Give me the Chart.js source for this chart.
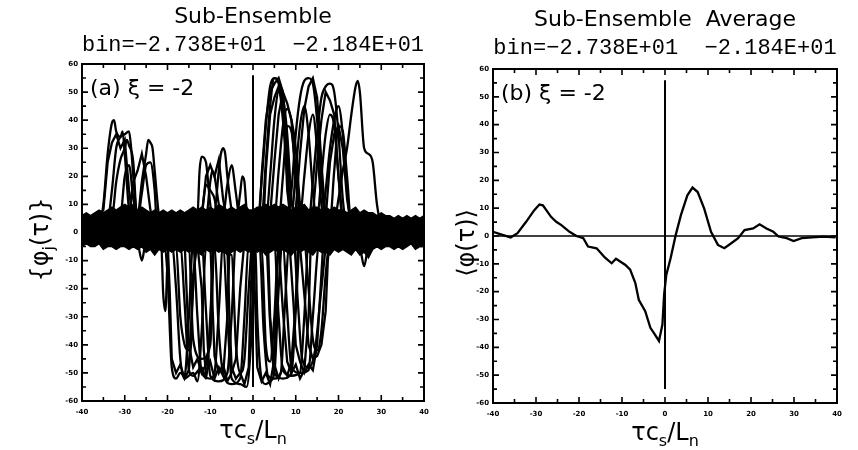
<!DOCTYPE html>
<html><head><meta charset="utf-8">
<script src="https://cdn.jsdelivr.net/npm/chart.js@4.4.1/dist/chart.umd.min.js"></script>
<style>
html,body{margin:0;padding:0;background:#fff;}
#wrap{position:relative;width:858px;height:450px;overflow:hidden;background:#fff;}
canvas{position:absolute;top:0;}
#c1{left:0;} #c2{left:440px;}
</style></head><body>
<div id="wrap"><canvas id="c1" width="440" height="450"></canvas><canvas id="c2" width="418" height="450"></canvas></div>
<script>
// ---------- text ----------
const titleLeft = 'Sub-Ensemble';
const titleRight = 'Sub-Ensemble  Average';
const binText = 'bin=−2.738E+01  −2.184E+01';
const panelLabelLeft = '(a) ξ = -2';
const panelLabelRight = '(b) ξ = -2';

// ---------- tick labels ----------
const xTickLabels = [-40, -30, -20, -10, 0, 10, 20, 30, 40];
const yTickLabels = [-60, -50, -40, -30, -20, -10, 0, 10, 20, 30, 40, 50, 60];

// ---------- panel (a): background noise band of all realisations ----------
const bandTau = [-40,-39,-38,-37,-36,-35,-34,-33,-32,-31,-30,-29,-28,-27,-26,-25,-24,-23,-22,-21,
  -20,-19,-18,-17,-16,-15,-14,-13,-12,-11,-10,-9,-8,-7,-6,-5,-4,-3,-2,-1,
  0,1,2,3,4,5,6,7,8,9,10,11,12,13,14,15,16,17,18,19,20,21,22,23,24,25,26,27,28,29,
  30,31,32,33,34,35,36,37,38,39,40];
const bandUpper = [6,7,6,7,8,7,8,9,8,9, 10,9,10,8,9,8,7,8,7,8,
  7,8,7,8,7,8,9,8,9,8, 9,8,10,9,8,9,8,9,10,8,
  8,9,9,10,9,10,9,10,9,8, 9,9,10,8,9,9,8,9,8,9,
  8,8,7,8,9,7,8,7,7,6, 7,6,6,5,6,5,6,5,6,5, 6];
const bandLower = [-5,-4,-5,-5,-4,-6,-5,-5,-6,-5, -5,-6,-5,-6,-5,-7,-6,-8,-6,-7,
  -6,-7,-6,-7,-6,-7,-6,-7,-8,-6, -7,-6,-7,-6,-8,-7,-6,-7,-6,-7,
  -6,-7,-6,-8,-7,-6,-7,-6,-7,-8, -6,-7,-6,-7,-8,-6,-7,-7,-8,-6,
  -7,-6,-7,-8,-6,-8,-7,-9,-6,-5, -6,-5,-5,-6,-5,-6,-5,-4,-6,-5, -5];

// ---------- panel (a): individual realisations (tau, phi) ----------
const realTaus = [
  [-40,-36,-35,-34,-33,-32.5,-32,-31,-30.5,-30,-29,-28,40],
  [-40,-34,-33,-32,-31,-30,-29,-28.5,-28,-27,40],
  [-40,-33,-32,-31,-30,-29.5,-29,-28,-27.5,-27,40],
  [-40,-27,-26,-25,-24.5,-24,-23.5,-23,-22,-21,40],
  [-40,-27,-26,-25,-24,-23,-22.5,40],
  [-40,-31,-30,-29,-28,-27,40],
  [-40,-27,-26,-25,40],
  [-40,-13,-12.5,-12,-11,-10.5,-10,-9,40],
  [-40,-9,-8,-7.5,-7,-6.5,-6,-5,-4,40],
  [-40,-11,-10,-9.5,-9,-8,-7,40],
  [-40,-4,-3,-2.5,-2,-1.5,-1,40],
  [-40,-12,-11,-10,-9,-8,40],
  [-40,-7,-6,-5,-4,-3,40],
  [-40,-21,-20,-19,-18,-17,-16,-15,-14,40],
  [-40,-19,-18,-17,-16,-14,-13,-12,-11,40],
  [-40,-17,-16,-15,-14,-12,-11,-10,-9,40],
  [-40,-14,-13,-12,-10,-9,-8,-7,40],
  [-40,-12,-11,-10,-8,-6,-5,-4,40],
  [-40,-9,-8,-7,-5,-3,-2,-1,40],
  [-40,-7,-6,-5,-3,-1.5,-0.5,0.5,40],
  [-40,-21.5,-21,-20.5,-20,-19.5,40],
  [-40,-18,-17,-16,-15,-14,-13,40],
  [-40,-15,-14,-12,-10,-9,40],
  [-40,-5,-4,-3,-2,-1,0,40],
  [-40,0.5,1,2,3,4,5,6,7,40],
  [-40,1.5,2.5,3.5,5,6.5,7.5,8.5,40],
  [-40,3,4,5,7,9,10,11,40],
  [-40,5,6,7,9,11,12,13,40],
  [-40,7,8,9,11,13,14,15.5,40],
  [-40,9.5,10.5,11.5,13,14.5,16,17.5,40],
  [-40,12,13,14,15,16,17,18,40],
  [-40,2,3,4,5,6,40],
  [-40,1,2,3,4,5,6,7,8,9,40],
  [-40,2,3,4,5,6,7,8,9,40],
  [-40,3,4,5,6,7,8,9,10,40],
  [-40,5,6,7,8,9,10,11,12,40],
  [-40,8,9,10,11,12,13,14,15,16,17,40],
  [-40,9,10,11,12,13,14,15,40],
  [-40,11,12,13,14,15,16,17,40],
  [-40,13,14,15,16,17,18,19,20,21,22,40],
  [-40,15,16,17,18,19,20,21,40],
  [-40,16,17,18,19,20,21,22,23,40],
  [-40,19,20,21,22,23,24,24.5,25,26,27,28,29,30,40],
  [-40,18,19,20,21,22,23,40],
  [-40,6,7,8,9,10,11,12,40],
  [-40,25,26,27,28,40]
];
const realVals = [
  [2,3,10,28,39,40,36,34,36,28,8,3,1],
  [1,4,15,30,34,35,36,30,20,4,2],
  [-1,5,18,26,30,33,31,25,12,3,0],
  [2,6,18,28,33,32,30,22,6,2,1],
  [1,5,14,24,25,15,4,0],
  [0,6,20,24,12,4,1],
  [-2,-4,-10,-3,-2],
  [1,6,22,27,25,18,10,3,0],
  [2,8,22,28,30,28,20,8,3,1],
  [0,5,18,22,20,10,3,1],
  [1,4,14,20,18,8,2,0],
  [2,8,17,15,12,4,1],
  [0,6,17,24,14,4,1],
  [0,-2,-15,-48,-52,-50,-51,-30,-3,1],
  [1,-3,-20,-45,-52,-50,-53,-35,-5,0],
  [0,-4,-25,-49,-51,-48,-52,-30,-2,1],
  [1,-5,-30,-50,-52,-50,-28,-4,0],
  [0,-3,-28,-51,-53,-50,-30,-3,1],
  [2,-5,-35,-50,-54,-52,-30,-4,0],
  [0,-4,-30,-52,-54,-55,-40,-5,1],
  [1,-3,-22,-28,-10,-3,0],
  [0,-5,-30,-40,-42,-20,-2,1],
  [1,-5,-38,-45,-40,-3,0],
  [0,-8,-40,-50,-45,-20,-2,1],
  [1,-3,-30,-52,-54,-53,-50,-20,-2,0],
  [0,-4,-35,-51,-52,-50,-25,-3,1],
  [1,-3,-32,-50,-52,-50,-28,-4,0],
  [0,-5,-30,-49,-51,-50,-30,-3,1],
  [1,-4,-28,-48,-50,-49,-30,-4,0],
  [0,-3,-25,-45,-48,-42,-20,-2,1],
  [1,-4,-20,-38,-42,-35,-15,-3,0],
  [0,-5,-40,-46,-30,-3,1],
  [0,3,18,38,52,55,54,45,25,5,1],
  [1,5,25,45,55,53,40,20,4,0],
  [0,4,20,40,50,48,35,12,3,1],
  [1,5,22,38,44,40,30,10,2,0],
  [0,3,15,35,48,54,55,53,40,18,4,1],
  [1,5,22,38,45,35,15,3,0],
  [0,6,20,35,42,30,10,2,1],
  [1,4,18,35,48,52,53,50,35,12,3,0],
  [0,5,20,35,42,38,20,4,1],
  [1,3,15,30,40,45,35,15,3,0],
  [0,4,12,22,30,42,52,54,50,30,28,25,10,3,1],
  [0,4,22,38,36,20,3,1],
  [1,4,20,38,36,22,6,1,0],
  [-1,-6,-12,-4,-1]
];

// more realisations, drawn with straight (jagged) segments
const jagTaus = [
  [-40,-20,-19.5,-19,-18,-17,-16,-15,-14.5,-14,-13,40],
  [-40,-16,-15.5,-15,-14,-13,-12,-11,-10,-9.5,-9,40],
  [-40,-13,-12,-11.5,-11,-10,-9,-8,-7,-6,-5.5,40],
  [-40,-10,-9.5,-9,-8,-7,-6,-5,-4,-3,-2,40],
  [-40,-6,-5.5,-5,-4,-3,-2,-1,-0.5,0,40],
  [-40,0,0.5,1,2,3,4,5,5.5,6,40],
  [-40,3.5,4,5,6,7,8,9,10,10.5,40],
  [-40,6,7,8,9,10,11,12,13,13.5,40],
  [-40,8.5,9.5,10,11,12,13,14,15,16,16.5,40],
  [-40,11,12,13,14,15,16,17,17.5,18,40],
  [-40,1.5,2,3,4,5,6,7,8,8.5,40],
  [-40,2.5,3,4,5,6,7,7.5,8,9,40],
  [-40,4,5,6,7,8,9,10,11,40],
  [-40,10,11,12,13,14,15,16,17,40],
  [-40,14,15,16,17,18,19,20,21,40],
  [-40,17,18,19,20,21,22,23,40],
  [-40,-35,-34,-33,-32,-31,-30,-29,-28,40],
  [-40,-29,-28,-27,-26,-25,-24,-23,40],
  [-40,-12,-11,-10,-9,-8,-7,-6,40]
];
const jagVals = [
  [0,-2,-20,-45,-50,-47,-52,-49,-40,-15,-3,1],
  [1,-3,-22,-40,-48,-45,-50,-47,-38,-10,-2,0],
  [0,-4,-20,-42,-50,-46,-52,-48,-51,-30,-5,1],
  [1,-2,-25,-44,-50,-47,-53,-50,-45,-20,-3,0],
  [0,-5,-30,-48,-52,-50,-54,-48,-20,-3,1],
  [1,-2,-25,-48,-53,-50,-54,-45,-20,-3,0],
  [0,-3,-30,-47,-52,-48,-51,-46,-25,-4,1],
  [1,-4,-28,-46,-50,-47,-52,-49,-30,-4,0],
  [0,-3,-26,-40,-46,-50,-47,-49,-40,-15,-2,1],
  [1,-5,-22,-40,-45,-44,-40,-28,-10,-2,0],
  [0,4,20,40,50,53,55,50,30,6,1],
  [1,5,22,42,48,52,45,35,15,3,0],
  [0,6,25,42,50,46,40,18,4,1],
  [1,8,28,44,52,55,48,25,4,0],
  [0,6,25,40,50,47,42,20,4,1],
  [1,5,25,35,38,30,12,2,0],
  [1,8,25,32,35,30,33,15,4,0],
  [0,6,18,22,28,20,8,2,1],
  [0,5,20,24,20,26,12,3,1]
];

// ---------- reference lines ----------
const markTau = [0, 0];
const markVal = [56, -55];
const zeroTau = [-40, 40];
const zeroVal = [0, 0];

// ---------- panel (b): sub-ensemble average ----------
const avgTau = [-40,-37.8,-35.9,-34.3,-32.3,-30.4,-29.2,-28.4,-26.5,-25.3,-24.1,-22.2,-20.6,-19.0,-17.9,
  -15.9,-14.0,-12.4,-11.4,-9.2,-8.1,-6.9,-6.1,-4.6,-3.4,-2.6,-1.4,-0.6,-0.2,0.3,1.3,2.5,3.7,5.2,6.4,
  7.6,9.1,10.7,12.3,13.8,15.4,17.0,18.5,20.5,22.0,23.6,25.2,26.4,28.3,29.9,31.8,34.2,36.9,39.7];
const avgVal = [1.5,0.4,-0.5,1,5.1,9.3,11.3,11,6.9,5.1,3.9,1.5,0,-0.8,-3.8,
  -4.4,-7.7,-9.8,-8.2,-10.4,-12.1,-16.9,-22.9,-27.0,-33,-34.8,-37.7,-31.8,-21,-14,-8,0.4,7.5,14.6,17.4,
  15.8,9.9,1.5,-3.2,-4.4,-2.6,-0.8,2.1,2.7,4.2,2.7,1.5,-0.2,-0.8,-1.8,-0.8,-0.5,-0.2,-0.5];

// ---------- helpers ----------
const pts = (ts, vs) => ts.map((t, i) => ({x: t, y: vs[i]}));
const lineDs = (ts, vs, w, extra) => Object.assign({
  data: pts(ts, vs), borderColor: '#000', backgroundColor: '#000', borderWidth: w,
  pointRadius: 0, fill: false, tension: 0, order: 0
}, extra || {});

const frameTicks = {
  id: 'frameTicks',
  afterDatasetsDraw(chart) {
    const {ctx, chartArea: a, scales: {x, y}} = chart;
    ctx.save();
    ctx.strokeStyle = '#000';
    ctx.lineWidth = 2;
    ctx.strokeRect(a.left, a.top, a.right - a.left, a.bottom - a.top);
    ctx.lineWidth = 1.6;
    ctx.beginPath();
    x.ticks.forEach(t => {
      const p = x.getPixelForValue(t.value);
      const L = xTickLabels.includes(t.value) ? 6 : 4;
      ctx.moveTo(p, a.bottom); ctx.lineTo(p, a.bottom - L);
      ctx.moveTo(p, a.top); ctx.lineTo(p, a.top + L);
    });
    y.ticks.forEach(t => {
      const p = y.getPixelForValue(t.value);
      const L = yTickLabels.includes(t.value) ? 6 : 4;
      ctx.moveTo(a.left, p); ctx.lineTo(a.left + L, p);
      ctx.moveTo(a.right, p); ctx.lineTo(a.right - L, p);
    });
    ctx.stroke();
    ctx.restore();
  }
};

// axis titles with sub-scripts, and panel annotation
const axisText = {
  id: 'axisText',
  afterDraw(chart, args, o) {
    const {ctx, chartArea: a} = chart;
    ctx.save();
    ctx.fillStyle = '#000';
    ctx.textBaseline = 'alphabetic';
    const big = '24px "DejaVu Sans"', small = '16px "DejaVu Sans"';
    const drawRuns = (runs, cx, cy) => {
      let w = 0;
      runs.forEach(r => { ctx.font = r.sub ? small : big; w += ctx.measureText(r.t).width; });
      let xx = cx - w / 2;
      runs.forEach(r => {
        ctx.font = r.sub ? small : big;
        ctx.fillText(r.t, xx, cy + (r.sub ? 6 : 0));
        xx += ctx.measureText(r.t).width;
      });
    };
    // x title
    drawRuns([{t: 'τc'}, {t: 's', sub: true}, {t: '/L'}, {t: 'n', sub: true}], (a.left + a.right) / 2, a.bottom + 37);
    // y title, rotated
    ctx.save();
    ctx.translate(o.yLabelX, (a.top + a.bottom) / 2 + 7);
    ctx.rotate(-Math.PI / 2);
    drawRuns(o.yRuns, 0, 8);
    ctx.restore();
    // panel annotation
    ctx.font = '22px "DejaVu Sans"';
    ctx.fillText(o.panel, a.left + 8, a.top + 31);
    ctx.restore();
  }
};

function makeOptions(title, yWidth, xHeight, padRight, titleTop, subBottom, yLabelX, yRuns, panel) {
  return {
    responsive: false, animation: false, events: [],
    layout: {padding: {left: 0, right: padRight, top: 0, bottom: 0}},
    plugins: {
      legend: {display: false}, tooltip: {enabled: false},
      title: {display: true, text: title, fullSize: false, color: '#000',
        font: {family: 'DejaVu Sans', size: 22, weight: 'normal', lineHeight: 1},
        padding: {top: titleTop, bottom: 3}},
      subtitle: {display: true, text: binText, fullSize: false, color: '#000',
        font: {family: 'Liberation Mono', size: 22, weight: 'normal', lineHeight: 1},
        padding: {top: 3, bottom: subBottom}},
      axisText: {yLabelX: yLabelX, yRuns: yRuns, panel: panel}
    },
    scales: {
      x: {type: 'linear', min: -40, max: 40,
        grid: {display: false, drawTicks: false}, border: {display: false},
        ticks: {stepSize: 5, autoSkip: false, maxRotation: 0, padding: 7, color: '#000',
          font: {family: 'DejaVu Sans', size: 7, weight: 'bold'},
          callback: v => xTickLabels.includes(v) ? String(v) : ''},
        afterFit: s => { s.height = xHeight; }},
      y: {type: 'linear', min: -60, max: 60,
        grid: {display: false, drawTicks: false}, border: {display: false},
        ticks: {stepSize: 5, autoSkip: false, padding: 4, color: '#000',
          font: {family: 'DejaVu Sans', size: 7, weight: 'bold'},
          callback: v => yTickLabels.includes(v) ? String(v) : ''},
        afterFit: s => { s.width = yWidth; }}
    }
  };
}

// ---------- panel (a) ----------
const dsA = [];
dsA.push(lineDs(bandTau, bandUpper, 1.5, {fill: '+1', order: 5}));
dsA.push(lineDs(bandTau, bandLower, 1.5, {order: 6}));
realTaus.forEach((ts, i) => dsA.push(lineDs(ts, realVals[i], 2.3, {cubicInterpolationMode: 'monotone'})));
jagTaus.forEach((ts, i) => dsA.push(lineDs(ts, jagVals[i], 2.3)));
dsA.push(lineDs(markTau, markVal, 2));

new Chart(document.getElementById('c1'), {
  type: 'line',
  data: {datasets: dsA},
  options: makeOptions(titleLeft, 82, 49, 16, 6, 8, 40,
    [{t: '{φ'}, {t: 'j', sub: true}, {t: '(τ)}'}], panelLabelLeft),
  plugins: [frameTicks, axisText]
});

// ---------- panel (b) ----------
const dsB = [
  lineDs(zeroTau, zeroVal, 1.6),
  lineDs(markTau, markVal, 2),
  lineDs(avgTau, avgVal, 2.3)
];
new Chart(document.getElementById('c2'), {
  type: 'line',
  data: {datasets: dsB},
  options: makeOptions(titleRight, 53, 47, 21, 9, 10, 26,
    [{t: '⟨φ(τ)⟩'}], panelLabelRight),
  plugins: [frameTicks, axisText]
});
</script></body></html>
